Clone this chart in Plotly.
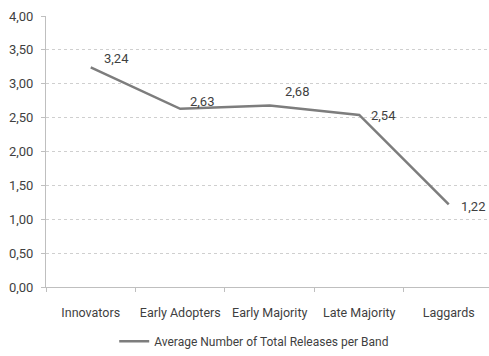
import plotly.graph_objects as go

categories = ["Innovators", "Early Adopters", "Early Majority", "Late Majority", "Laggards"]
avg_releases = [3.24, 2.63, 2.68, 2.54, 1.22]
series_name = "Average Number of Total Releases per Band"

# pixel offsets of each value label from its point (right, up)
label_dx = [11, 8, 13, 10, 10]
label_dy = [9, 7, 14, -1, -2]

FONT = "Roboto, sans-serif"
LINE_GREY = "#7d7d7d"
TEXT_GREY = "#3f3f3f"
AXIS_GREY = "#bfbfbf"

fig = go.Figure()
fig.add_trace(go.Scatter(
    x=categories,
    y=avg_releases,
    mode="lines",
    name=series_name,
    line=dict(color=LINE_GREY, width=2.5),
))

for cat, val, dx, dy in zip(categories, avg_releases, label_dx, label_dy):
    fig.add_annotation(
        x=cat, y=val, text=f"{val:.2f}".replace(".", ","),
        showarrow=False, xanchor="left", yanchor="middle",
        xshift=dx, yshift=dy,
        font=dict(family=FONT, size=13, color=TEXT_GREY),
    )

fig.update_layout(
    width=489, height=356,
    margin=dict(l=46, r=0, t=16, b=66),
    paper_bgcolor="white", plot_bgcolor="white",
    separators=", ",
    font=dict(family=FONT, size=13, color=TEXT_GREY),
    showlegend=True,
    legend=dict(orientation="h", x=0.47, xanchor="center", y=-0.2, yanchor="middle",
                font=dict(family=FONT, size=12, color=TEXT_GREY)),
    xaxis=dict(
        type="category", range=[-0.5, 4.45],
        showline=True, linecolor=AXIS_GREY, linewidth=1,
        ticks="outside", tickson="boundaries", ticklen=4, tickcolor=AXIS_GREY,
        ticklabelstandoff=14, tickangle=0,
        showgrid=False, zeroline=False,
        tickfont=dict(family=FONT, size=12.5, color=TEXT_GREY),
    ),
    yaxis=dict(
        range=[0, 4], dtick=0.5, tickformat=".2f",
        showline=True, linecolor=AXIS_GREY, linewidth=1,
        ticks="outside", ticklen=4, tickcolor=AXIS_GREY,
        ticklabelstandoff=5,
        showgrid=True, gridcolor="#cfcfcf", griddash="dot", gridwidth=1,
        zeroline=False,
        tickfont=dict(family=FONT, size=13, color=TEXT_GREY),
    ),
)

fig.write_html("out.html")
